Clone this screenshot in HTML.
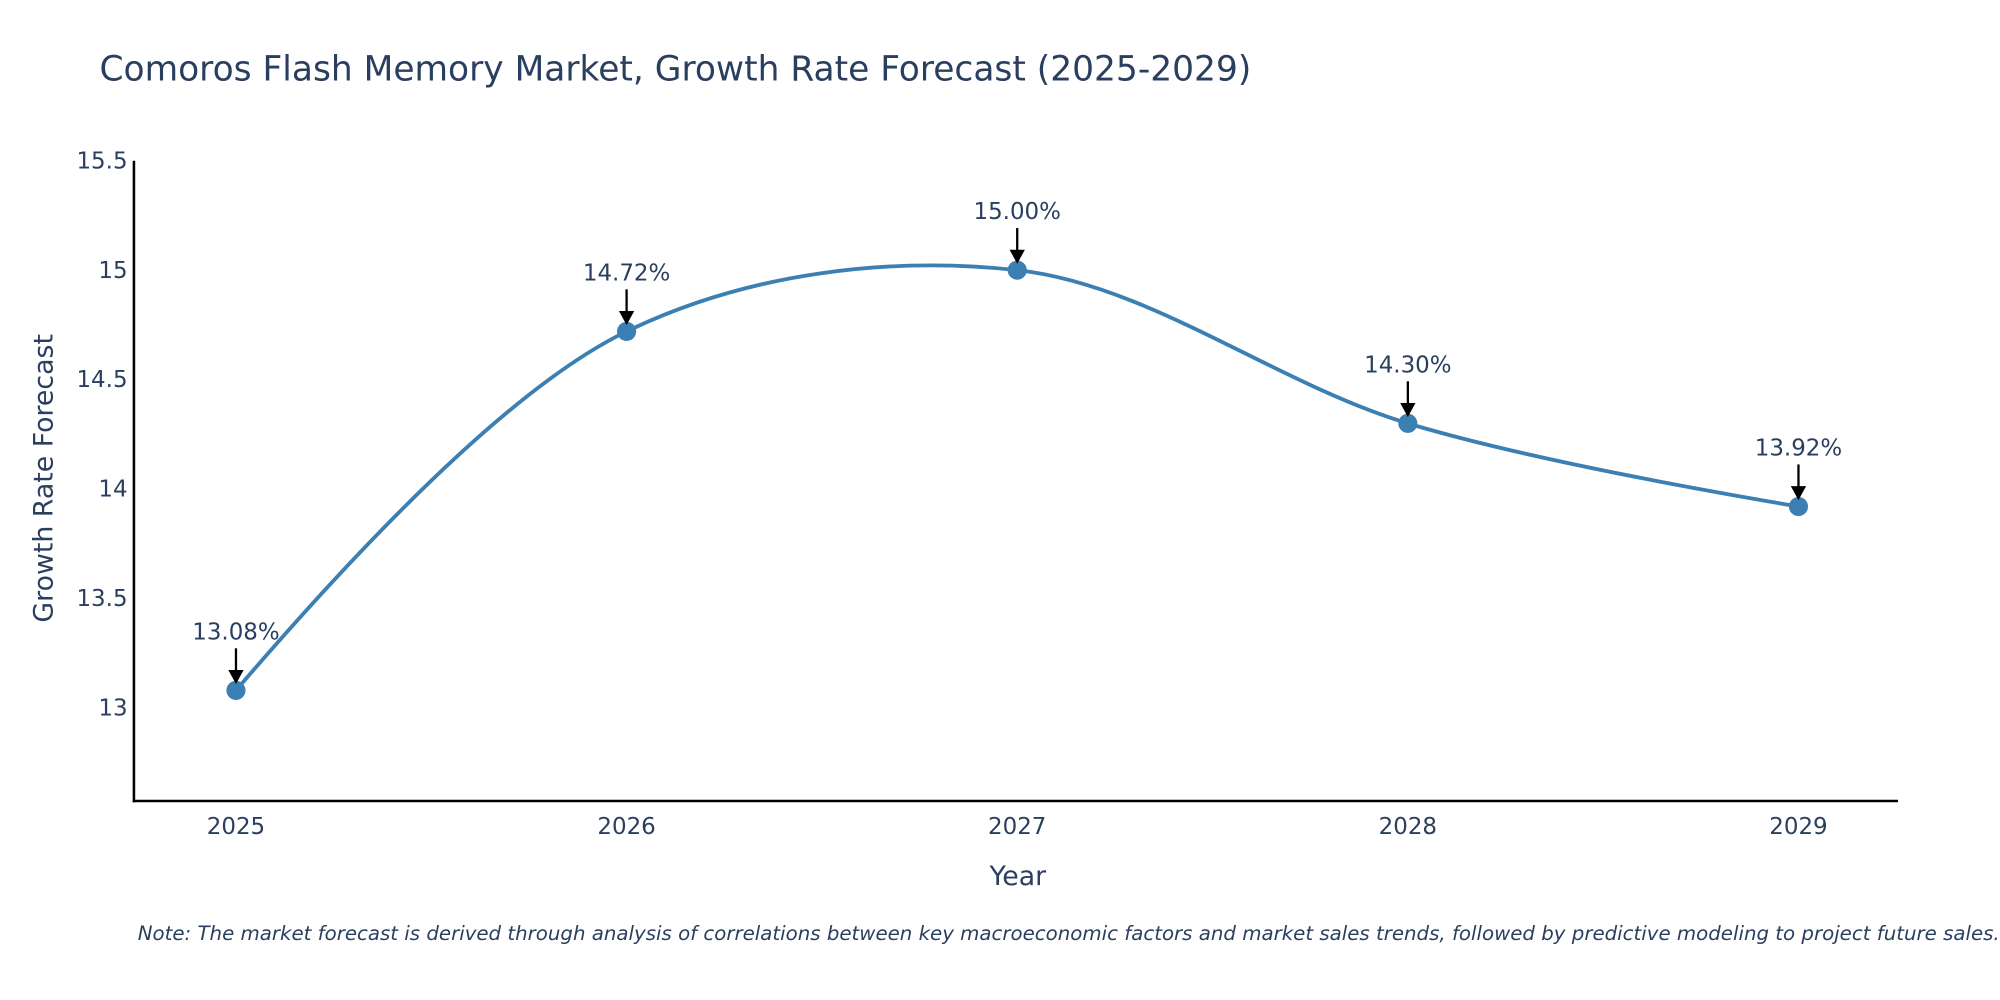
<!DOCTYPE html>
<html><head><meta charset="utf-8"><style>
html,body{margin:0;padding:0;background:#fff;}
svg{display:block;font-family:"DejaVu Sans","Liberation Sans",sans-serif;}
</style></head><body>
<svg width="2000" height="1000" viewBox="0 0 1568 784">
<text x="78" y="63" font-size="27" fill="#2a3f5f">Comoros Flash Memory Market, Growth Rate Forecast (2025-2029)</text>
<g id="yticks"></g><g id="xticks"></g>
<line x1="105" y1="126" x2="105" y2="629" stroke="#000" stroke-width="2"/>
<line x1="104" y1="628" x2="1488" y2="628" stroke="#000" stroke-width="2"/>
<text transform="translate(41,375) rotate(-90)" text-anchor="middle" font-size="21" fill="#2a3f5f">Growth Rate Forecast</text>
<text x="798" y="694" text-anchor="middle" font-size="21" fill="#2a3f5f">Year</text>
<text x="108" y="737" font-size="15.5" font-style="italic" fill="#2a3f5f">Note: The market forecast is derived through analysis of correlations between key macroeconomic factors and market sales trends, followed by predictive modeling to project future sales.</text>
<g id="plot"></g>
</svg>
<script>
const years=[2025,2026,2027,2028,2029];
const values=[13.08,14.72,15.00,14.30,13.92];
const labels=["13.08%","14.72%","15.00%","14.30%","13.92%"];
const yTicks=[13,13.5,14,14.5,15,15.5];
const yTickLabels=["13","13.5","14","14.5","15","15.5"];
const NS="http://www.w3.org/2000/svg";
function xs(v){return 185+(v-2025)*306.25;}
function ys(v){return 555-(v-13)*171.6;}
function mk(t,a,p){const e=document.createElementNS(NS,t);for(const k in a)e.setAttribute(k,a[k]);p.appendChild(e);return e;}
const yt=document.getElementById('yticks');
yTicks.forEach((v,i)=>{const t=mk('text',{x:100,y:ys(v)+6,'text-anchor':'end','font-size':18,fill:'#2a3f5f'},yt);t.textContent=yTickLabels[i];

});
const xt=document.getElementById('xticks');
years.forEach(v=>{const t=mk('text',{x:xs(v),y:654,'text-anchor':'middle','font-size':18,fill:'#2a3f5f'},xt);t.textContent=v;

});
const pts=years.map((y,i)=>[xs(y),ys(values[i])]);
function tang(p,c,n,s){const d1x=p[0]-c[0],d1y=p[1]-c[1],d2x=n[0]-c[0],d2y=n[1]-c[1];
const d1a=Math.pow(d1x*d1x+d1y*d1y,0.25),d2a=Math.pow(d2x*d2x+d2y*d2y,0.25);
const nx=(d2a*d2a*d1x-d1a*d1a*d2x)*s,ny=(d2a*d2a*d1y-d1a*d1a*d2y)*s;
const e1=3*d2a*(d1a+d2a),e2=3*d1a*(d1a+d2a);
return [[c[0]+nx/e1,c[1]+ny/e1],[c[0]-nx/e2,c[1]-ny/e2]];}
const tg=[];for(let i=1;i<pts.length-1;i++)tg.push(tang(pts[i-1],pts[i],pts[i+1],1));
let d='M'+pts[0]+'Q'+tg[0][0]+' '+pts[1];
for(let i=2;i<pts.length-1;i++)d+='C'+tg[i-2][1]+' '+tg[i-1][0]+' '+pts[i];
d+='Q'+tg[pts.length-3][1]+' '+pts[pts.length-1];
const plot=document.getElementById('plot');
const line=mk('path',{d:d,fill:'none',stroke:'#3b7fb3','stroke-width':3},plot);


pts.forEach((p,i)=>{
const c=mk('circle',{cx:p[0],cy:p[1],r:7.5,fill:'#3b7fb3'},plot);


const l=mk('line',{x1:p[0],y1:p[1]-33,x2:p[0],y2:p[1]-14,stroke:'#000','stroke-width':1.8},plot);


const a=mk('path',{d:`M${p[0]-6},${p[1]-16} L${p[0]+6},${p[1]-16} L${p[0]},${p[1]-5} Z`,fill:'#000'},plot);


const t=mk('text',{x:p[0],y:p[1]-40,'text-anchor':'middle','font-size':18,fill:'#2a3f5f'},plot);t.textContent=labels[i];


});
</script>
</body></html>
